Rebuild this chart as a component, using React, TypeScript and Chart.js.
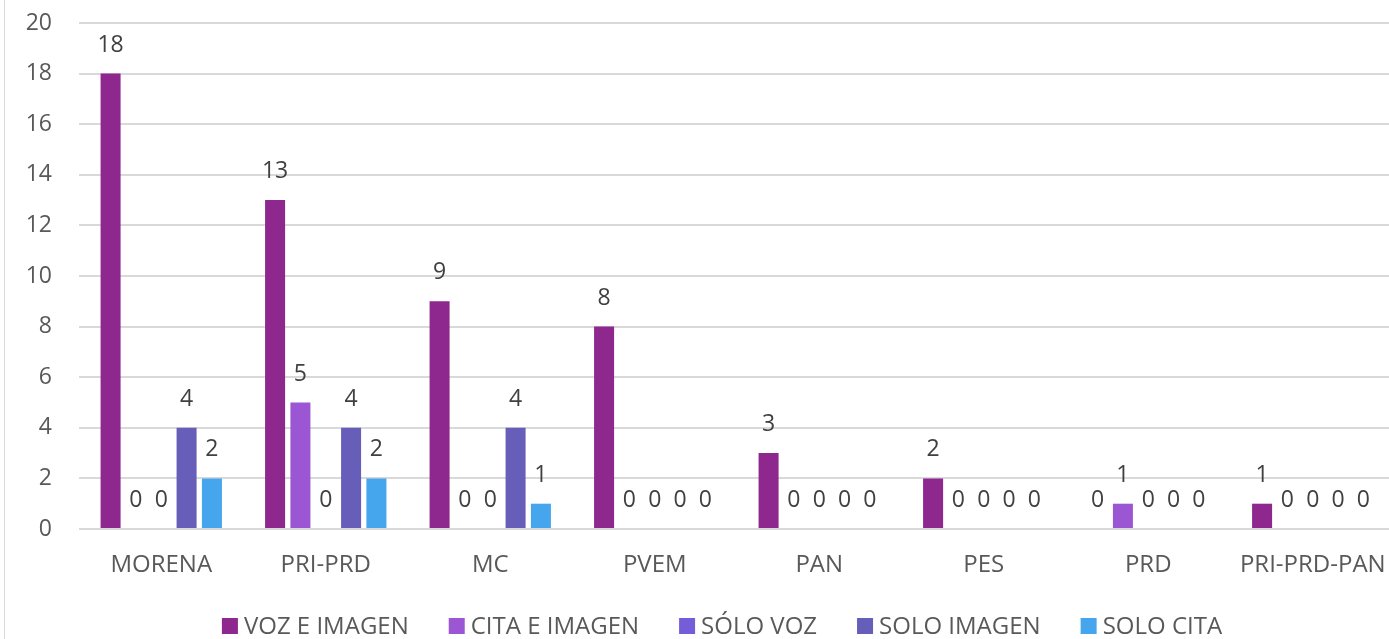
import { useEffect, useRef } from "react";
import { Chart, registerables } from "chart.js";

Chart.register(...registerables);

const categories = ["MORENA", "PRI-PRD", "MC", "PVEM", "PAN", "PES", "PRD", "PRI-PRD-PAN"];
const seriesNames = ["VOZ E IMAGEN", "CITA E IMAGEN", "SÓLO VOZ", "SOLO IMAGEN", "SOLO CITA"];
const vozEImagen = [18, 13, 9, 8, 3, 2, 0, 1];
const citaEImagen = [0, 5, 0, 0, 0, 0, 1, 0];
const soloVoz = [0, 0, 0, 0, 0, 0, 0, 0];
const soloImagen = [4, 4, 4, 0, 0, 0, 0, 0];
const soloCita = [2, 2, 1, 0, 0, 0, 0, 0];
const seriesColors = ["#8E278E", "#9B57D3", "#755DD9", "#665EB8", "#45A5ED"];
const yMin = 0;
const yMax = 20;
const yStep = 2;

const FONT = "'Open Sans', sans-serif";

const dataLabelPlugin = {
  id: "dataLabels",
  afterDatasetsDraw(chart: any) {
    const ctx = chart.ctx;
    ctx.save();
    ctx.font = `23px ${FONT}`;
    ctx.fillStyle = "#404040";
    ctx.textAlign = "center";
    ctx.textBaseline = "alphabetic";
    chart.data.datasets.forEach((ds: any, i: number) => {
      const meta = chart.getDatasetMeta(i);
      meta.data.forEach((el: any, j: number) => {
        ctx.fillText(String(ds.data[j]), el.x, el.y - 22);
      });
    });
    ctx.restore();
  },
};

const legendPlugin = {
  id: "customLegend",
  afterDraw(chart: any) {
    const ctx = chart.ctx;
    ctx.save();
    ctx.font = `24px ${FONT}`;
    ctx.textBaseline = "middle";
    ctx.textAlign = "left";
    const box = 16;
    const boxGap = 6;
    const itemGap = 40;
    const items = chart.data.datasets.map((ds: any) => ({
      label: ds.label,
      color: ds.backgroundColor,
      w: ctx.measureText(ds.label).width,
    }));
    const total =
      items.reduce((s: number, it: any) => s + box + boxGap + it.w, 0) + itemGap * (items.length - 1);
    let x = chart.width / 2 - total / 2;
    const y = 626;
    items.forEach((it: any) => {
      ctx.fillStyle = it.color;
      ctx.fillRect(x, y - box / 2, box, box);
      x += box + boxGap;
      ctx.fillStyle = "#595959";
      ctx.fillText(it.label, x, y + 1);
      x += it.w + itemGap;
    });
    ctx.restore();
  },
};

export default function App() {
  const ref = useRef<HTMLCanvasElement>(null);

  useEffect(() => {
    if (!ref.current) return;
    const seriesValues = [vozEImagen, citaEImagen, soloVoz, soloImagen, soloCita];
    const chart = new Chart(ref.current, {
      type: "bar",
      data: {
        labels: categories,
        datasets: seriesNames.map((name, i) => ({
          label: name,
          data: seriesValues[i],
          backgroundColor: seriesColors[i],
          borderWidth: 0,
          barPercentage: 0.79,
          categoryPercentage: 0.77,
        })),
      },
      options: {
        responsive: false,
        animation: false,
        devicePixelRatio: 1,
        layout: { padding: { top: 23, right: 49, left: 0, bottom: 0 } },
        plugins: {
          legend: { display: false },
          tooltip: { enabled: false },
        },
        scales: {
          x: {
            grid: { display: false, drawTicks: false },
            border: { display: false },
            ticks: {
              color: "#595959",
              font: { family: FONT, size: 24 },
              padding: 22,
              maxRotation: 0,
              autoSkip: false,
            },
            afterFit: (scale: any) => {
              scale.height = 110;
            },
          },
          y: {
            min: yMin,
            max: yMax,
            grid: { color: "#d9d9d9", lineWidth: 2, drawTicks: false },
            border: { display: false },
            ticks: {
              stepSize: yStep,
              color: "#595959",
              font: { family: FONT, size: 23 },
              padding: 27,
            },
            afterFit: (scale: any) => {
              scale.width = 79;
              scale.paddingTop = 14;
              scale.paddingBottom = 14;
            },
          },
        },
      },
      plugins: [dataLabelPlugin, legendPlugin],
    });
    return () => chart.destroy();
  }, []);

  return (
    <div style={{ position: "fixed", left: 0, top: 0, width: 1444, height: 639, background: "#fff" }}>
      <canvas ref={ref} width={1444} height={639} style={{ display: "block", width: 1444, height: 639 }} />
      <div
        style={{
          position: "absolute",
          left: 4,
          top: 0,
          width: 1,
          height: 639,
          background: "#d9d9d9",
        }}
      />
    </div>
  );
}
